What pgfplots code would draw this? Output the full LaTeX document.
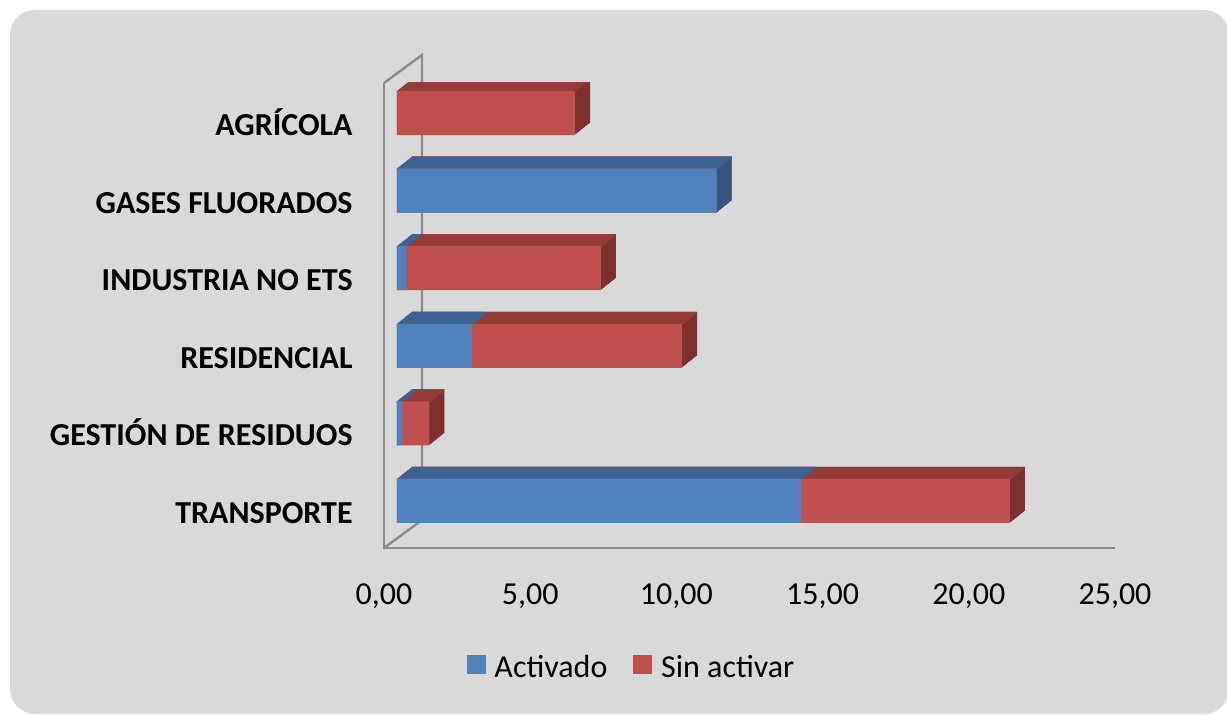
\documentclass[border=0pt]{standalone}
\usepackage{pgfplots}
\pgfplotsset{compat=1.18}
\usepackage{pgfplotstable}
\usepackage{fontspec}
\setmainfont{Carlito}
\definecolor{bgGray}{HTML}{D9D9D9}
\definecolor{blueF}{HTML}{4F81BD}
\definecolor{blueT}{HTML}{3C6292}
\definecolor{blueS}{HTML}{34557F}
\definecolor{redF}{HTML}{C0504D}
\definecolor{redT}{HTML}{943A38}
\definecolor{redS}{HTML}{7D302E}
\definecolor{wallGray}{HTML}{8C8C8C}

% y: 0 = TRANSPORTE ... 5 = AGRICOLA ; act = Activado, sin = Sin activar, tot = act+sin
\pgfplotstableread{
y act sin tot
0 13.81 7.15 20.96
1 0.17 0.94 1.11
2 2.55 7.20 9.75
3 0.31 6.66 6.97
4 10.93 0 10.93
5 0 6.09 6.09
}\datatab

\begin{document}
\begin{tikzpicture}[x=0.5pt,y=0.5pt]
\useasboundingbox (0,0) rectangle (1227,714);
\fill[bgGray, rounded corners=12.5pt] (10,0) rectangle (1229,704);
% 3D walls
\draw[wallGray, line width=1.2pt] (384,631) -- (384,166) -- (1115,166);
\draw[wallGray, line width=1.2pt] (384,631) -- (422,659) -- (422,194) -- (384,166);
\begin{axis}[
  at={(192pt,83pt)}, anchor=south west,
  scale only axis, width=365.5pt, height=232.5pt,
  xmin=0, xmax=25, ymin=-0.606, ymax=5.387,
  axis line style={draw=none}, tick style={draw=none},
  xtick={0,5,...,25}, ytick={0,...,5},
  yticklabels={TRANSPORTE, GESTIÓN DE RESIDUOS, RESIDENCIAL, INDUSTRIA NO ETS, GASES FLUORADOS, AGRÍCOLA},
  /pgf/number format/assume math mode=true,
  xticklabel={\pgfmathprintnumber[fixed,fixed zerofill,precision=2,use comma]{\tick}},
  xticklabel style={font=\fontsize{16}{19}\selectfont, inner sep=0pt, anchor=north, yshift=-17.5pt},
  yticklabel style={font=\bfseries\fontsize{16}{19}\selectfont, inner sep=0pt, anchor=base east, xshift=-15.5pt, yshift=-11.2pt},
  legend style={at={(0.34,-0.258)}, anchor=center, draw=none, fill=none,
    font=\fontsize{16}{19}\selectfont, legend columns=2,
    /tikz/every even column/.append style={column sep=11pt}},
  legend cell align=left,
]
% side faces
\pgfplotsinvokeforeach{1,...,15}{
  \addplot[xbar, bar shift=0, bar width=0.567, fill=redS, draw=none, forget plot,
    xshift={6.5pt+0.5pt*#1}, yshift={0.4pt*#1}] table[x=tot,y=y]{\datatab};
}
\pgfplotsinvokeforeach{1,...,15}{
  \addplot[xbar, bar shift=0, bar width=0.567, fill=blueS, draw=none, forget plot,
    xshift={6.5pt+0.5pt*#1}, yshift={0.4pt*#1}] table[x=act,y=y]{\datatab};
}
% top faces
\pgfplotsinvokeforeach{0,...,15}{
  \addplot[xbar, bar shift=0.2735, bar width=0.02, fill=redT, draw=none, forget plot,
    xshift={6.5pt+0.5pt*#1}, yshift={0.4pt*#1}] table[x=tot,y=y]{\datatab};
}
\pgfplotsinvokeforeach{0,...,15}{
  \addplot[xbar, bar shift=0.2735, bar width=0.02, fill=blueT, draw=none, forget plot,
    xshift={6.5pt+0.5pt*#1}, yshift={0.4pt*#1}] table[x=act,y=y]{\datatab};
}
% front faces
\addplot[xbar, bar shift=0, bar width=0.567, fill=redF, draw=none, forget plot, xshift=6.5pt] table[x=tot,y=y]{\datatab};
\addplot[xbar, bar shift=0, bar width=0.567, fill=blueF, draw=none, forget plot, xshift=6.5pt] table[x=act,y=y]{\datatab};
\addlegendimage{legend image code/.code={\fill[blueF] (0pt,-2.5pt) rectangle (9pt,6.5pt); \path (11.5pt,0pt);}}
\addlegendentry{Activado}
\addlegendimage{legend image code/.code={\fill[redF] (0pt,-2.5pt) rectangle (9pt,6.5pt); \path (11.5pt,0pt);}}
\addlegendentry{Sin activar}
\end{axis}
\end{tikzpicture}
\end{document}
